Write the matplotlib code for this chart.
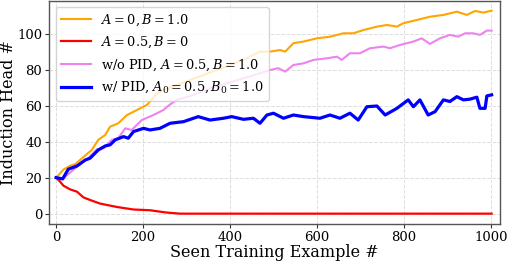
import matplotlib
matplotlib.use("Agg")
import matplotlib.pyplot as plt

plt.rcParams['font.family'] = 'DejaVu Serif'
plt.rcParams['mathtext.fontset'] = 'dejavuserif'

# values
x_orange = [0, 17, 31, 44, 63, 82, 97, 113, 124, 143, 163, 186, 209, 232, 258,
            300, 350, 400, 440, 469, 492, 515, 527, 546, 569, 600, 630, 661, 684,
            707, 738, 761, 784, 799, 830, 860, 891, 922, 945, 964, 983, 1002]
y_orange = [20, 24.5, 26.5, 27.5, 31.5, 35.4, 41, 43.7, 48.3, 50.2, 54.8, 57.6,
            60.4, 66.9, 69.7, 73.5, 78, 82.5, 86.5, 90, 90, 90.9, 90, 94.7, 95.6,
            97.4, 98.3, 100.2, 100.2, 102, 103.9, 104.8, 103.9, 105.8, 107.6,
            109.4, 110.4, 112.2, 110.4, 112.6, 111.7, 112.8]

x_red = [0, 9, 17, 32, 48, 63, 78, 101, 140, 178, 216, 239, 255, 285, 1002]
y_red = [20, 17.8, 15.5, 13.5, 12.2, 9, 7.6, 5.6, 3.7, 2.3, 1.9, 1.1, 0.6, 0, 0]

x_violet = [0, 15, 48, 74, 94, 109, 128, 143, 159, 174, 197, 224, 247, 261, 278,
            316, 354, 393, 431, 469, 492, 511, 527, 546, 569, 592, 623, 646, 657,
            676, 699, 722, 753, 768, 791, 822, 841, 860, 883, 906, 925, 941, 960,
            975, 991, 1002]
y_violet = [20, 19.3, 26.1, 30.8, 35.8, 36.3, 41, 41.9, 47.4, 46.5, 52, 54.8, 57.6,
            60.5, 63.2, 65.9, 69.7, 72.4, 75.2, 78, 79.8, 80.8, 78.9, 82.6, 83.5,
            85.4, 86.3, 87.2, 85.4, 89.1, 89.1, 91.9, 92.8, 91.9, 93.7, 95.6, 97.4,
            94.3, 97.4, 99.3, 98.3, 100.2, 100.2, 99.3, 101.7, 101.7]

x_blue = [0, 15, 28, 48, 67, 78, 97, 113, 124, 136, 155, 166, 178, 201, 216, 239,
          262, 293, 327, 354, 385, 404, 431, 454, 469, 485, 500, 523, 546, 569,
          607, 630, 653, 676, 695, 715, 738, 757, 784, 810, 822, 837, 856, 872,
          891, 906, 922, 937, 952, 968, 975, 987, 991, 1002]
y_blue = [20, 19.3, 24.7, 26.5, 29.8, 30.8, 35.4, 37.6, 38.2, 41, 42.8, 41.9, 45.6,
          47.4, 46.5, 47.4, 50.2, 51.1, 53.9, 52, 53, 53.9, 52.4, 53, 50.2, 54.8,
          55.8, 53, 54.8, 53.9, 53, 54.8, 53, 55.8, 52, 59.4, 59.8, 54.8, 58.5,
          63.2, 59.4, 63.2, 54.8, 56.7, 63.2, 62.3, 65, 63.2, 63.6, 64.7, 58.5,
          58.5, 65.4, 66]

labels = [r"$A=0, B=1.0$", r"$A=0.5, B=0$",
          r"w/o PID, $A=0.5, B=1.0$", r"w/ PID, $A_0=0.5, B_0=1.0$"]

fig = plt.figure(figsize=(5.07, 2.62), dpi=100)
ax = fig.add_axes([0.097, 0.144, 0.889, 0.854])

ax.plot(x_orange, y_orange, color='orange', lw=1.5, label=labels[0])
ax.plot(x_red, y_red, color='red', lw=1.6, label=labels[1])
ax.plot(x_violet, y_violet, color='violet', lw=1.5, label=labels[2])
ax.plot(x_blue, y_blue, color='blue', lw=2.3, label=labels[3])

ax.set_xlim(-16, 1021)
ax.set_ylim(-5.9, 118.4)
ax.set_xticks([0, 200, 400, 600, 800, 1000])
ax.set_yticks([0, 20, 40, 60, 80, 100])
ax.tick_params(labelsize=9.5, length=3, pad=2, color='#333333')
ax.grid(True, linestyle='--', color='#dddddd', linewidth=0.7)
for s in ax.spines.values():
    s.set_color('#555555')
    s.set_linewidth(1.0)

ax.set_xlabel("Seen Training Example #", fontsize=11.5, labelpad=0)
ax.set_ylabel("Induction Head #", fontsize=11.5, labelpad=0)
ax.legend(loc='upper left', fontsize=9.3, handlelength=2.3, labelspacing=0.55,
          framealpha=0.8, edgecolor='#cccccc')

fig.savefig("out.png", dpi=100)
